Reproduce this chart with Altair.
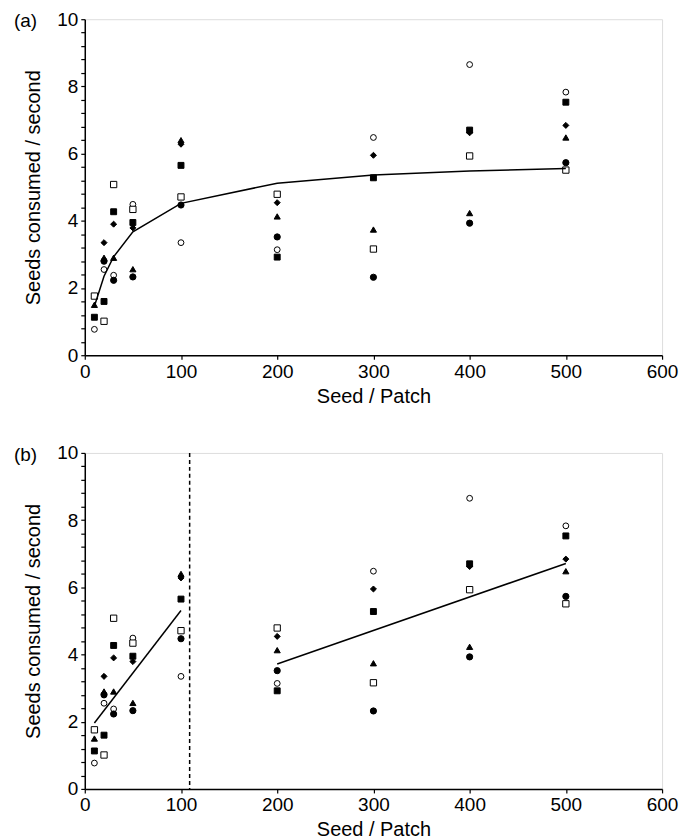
import altair as alt
import pandas as pd

# ---- data ----
seed = [10, 20, 30, 50, 100, 200, 300, 400, 500]

open_circle = [0.77, 2.55, 2.38, 4.49, 3.35, 3.14, 6.48, 8.65, 7.83]
filled_square = [1.13, 1.60, 4.27, 3.95, 5.65, 2.92, 5.28, 6.70, 7.53]
filled_diamond = [None, 3.35, 3.90, 3.79, 6.28, 4.54, 5.95, 6.62, 6.84]
filled_triangle = [1.50, 2.90, 2.90, 2.56, 6.40, 4.13, 3.74, 4.23, 6.48]
filled_circle = [None, 2.80, 2.23, 2.33, 4.47, 3.52, 2.32, 3.93, 5.73]
open_square = [1.76, 1.01, 5.08, 4.34, 4.71, 4.79, 3.16, 5.93, 5.51]

series_names = ["open circle", "filled square", "filled diamond",
                "filled triangle", "filled circle", "open square"]
series_values = [open_circle, filled_square, filled_diamond,
                 filled_triangle, filled_circle, open_square]
series_shapes = ["circle", "square", "diamond", "triangle-up", "circle", "square"]
series_fills = ["white", "black", "black", "black", "black", "white"]
series_sizes = [34, 40, 52, 46, 38, 40]

# fitted curve, panel (a)
fit_a = [1.46, 2.35, 2.93, 3.67, 4.52, 5.12, 5.36, 5.48, 5.56]

# two linear fits, panel (b)
fit_b_seed = [10, 100, 200, 500]
fit_b_value = [1.96, 5.31, 3.72, 6.71]
fit_b_group = ["low", "low", "high", "high"]
threshold = 109

x_ticks = [0, 100, 200, 300, 400, 500, 600]
y_ticks = [0, 0.4, 0.8, 1.2, 1.6, 2, 2.4, 2.8, 3.2, 3.6, 4, 4.4, 4.8, 5.2, 5.6,
           6, 6.4, 6.8, 7.2, 7.6, 8, 8.4, 8.8, 9.2, 9.6, 10]

# ---- tables ----
rows = []
for name, vals in zip(series_names, series_values):
    for s, v in zip(seed, vals):
        if v is not None:
            rows.append({"seed": s, "value": v, "series": name})
points_df = pd.DataFrame(rows)
fit_a_df = pd.DataFrame({"seed": seed, "value": fit_a})
fit_b_df = pd.DataFrame({"seed": fit_b_seed, "value": fit_b_value, "group": fit_b_group})

W, H = 579, 337
FONT = "Liberation Sans"

x_scale = alt.Scale(domain=[0, 600], nice=False, zero=True)
y_scale = alt.Scale(domain=[0, 10], nice=False, zero=True)

x_axis = alt.Axis(values=x_ticks, format="d", grid=False, tickSize=4, tickWidth=1.2,
                  tickColor="black", domainColor="black", domainWidth=1.5,
                  labelFontSize=19, labelColor="black", labelFont=FONT, labelPadding=3,
                  labelFlush=False, labelOverlap=False,
                  titleFontSize=20, titleFontWeight="normal", titleColor="black",
                  titleFont=FONT, titlePadding=5)
y_axis = alt.Axis(values=y_ticks,
                  labelExpr="abs(datum.value - round(datum.value / 2) * 2) < 0.01 ? toString(round(datum.value)) : ''",
                  grid=False, tickSize=4, tickWidth=1.2, tickColor="black",
                  domainColor="black", domainWidth=1.5,
                  labelFontSize=19, labelColor="black", labelFont=FONT, labelPadding=3,
                  labelFlush=False, labelOverlap=False,
                  titleFontSize=20, titleFontWeight="normal", titleColor="black",
                  titleFont=FONT, titlePadding=13)

X = alt.X("seed:Q", scale=x_scale, axis=x_axis, title="Seed / Patch")
Y = alt.Y("value:Q", scale=y_scale, axis=y_axis, title="Seeds consumed / second")


def points_layer():
    return alt.Chart(points_df).mark_point(
        filled=True, stroke="black", strokeWidth=1, opacity=1
    ).encode(
        x=X, y=Y,
        shape=alt.Shape("series:N", scale=alt.Scale(domain=series_names, range=series_shapes), legend=None),
        fill=alt.Fill("series:N", scale=alt.Scale(domain=series_names, range=series_fills), legend=None),
        size=alt.Size("series:N", scale=alt.Scale(domain=series_names, range=series_sizes), legend=None),
    )


def panel_label(text):
    return alt.Chart(pd.DataFrame({"label": [text]})).mark_text(
        align="left", baseline="middle", fontSize=19, font=FONT, color="black"
    ).encode(x=alt.value(-71), y=alt.value(2), text="label:N")


line_a = alt.Chart(fit_a_df).mark_line(color="black", strokeWidth=1.5).encode(x=X, y=Y)
panel_a = alt.layer(points_layer(), line_a, panel_label("(a)")).properties(width=W, height=H)

line_b = alt.Chart(fit_b_df).mark_line(color="black", strokeWidth=1.5).encode(
    x=X, y=Y, detail="group:N")
rule_b = alt.Chart(pd.DataFrame({"t": [threshold]})).mark_rule(
    color="black", strokeWidth=1.5, strokeDash=[4, 3]
).encode(x=alt.X("t:Q", scale=x_scale), y=alt.value(0), y2=alt.value(H))
panel_b = alt.layer(points_layer(), line_b, rule_b, panel_label("(b)")).properties(width=W, height=H)

chart = alt.vconcat(panel_a, panel_b, spacing=98, bounds="flush").properties(
    padding={"left": 5, "top": 0, "right": 5, "bottom": 5}
).configure_view(stroke=None).configure(font=FONT)

chart.save("out.html", embed_options={"renderer": "svg", "actions": False})
